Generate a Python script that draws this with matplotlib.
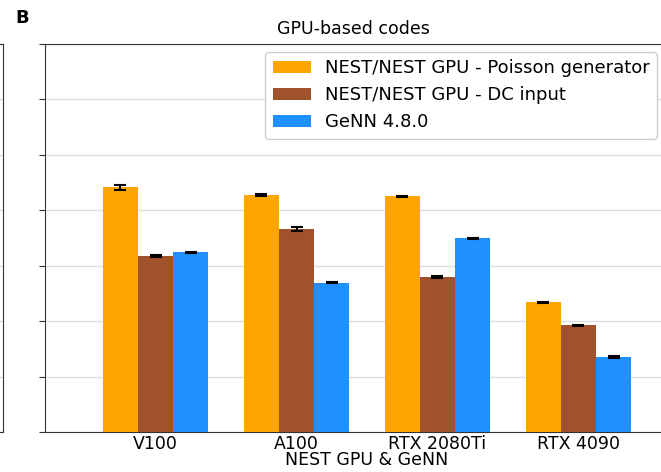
import numpy as np
import matplotlib
matplotlib.use("Agg")
import matplotlib.pyplot as plt

# datos (unidades arbitrarias, 1 = una linea de rejilla)
gpus = ["V100", "A100", "RTX 2080Ti", "RTX 4090"]
series = ["NEST/NEST GPU - Poisson generator", "NEST/NEST GPU - DC input", "GeNN 4.8.0"]
poisson = [4.415, 4.27, 4.25, 2.34]
poisson_err = [0.05, 0.015, 0.012, 0.01]
dc = [3.175, 3.657, 2.796, 1.925]
dc_err = [0.015, 0.035, 0.015, 0.01]
genn = [3.242, 2.69, 3.494, 1.353]
genn_err = [0.012, 0.01, 0.01, 0.01]
colors = ["orange", "sienna", "dodgerblue"]

W, H = 661, 472
fig = plt.figure(figsize=(W / 100, H / 100), dpi=100)

# resto del panel A (cortado a la izquierda)
axa = fig.add_axes([-0.5, (472 - 432) / H, 0.5 + 2.5 / W, 388 / H])
axa.set_ylim(0, 7)
axa.set_yticks(range(8))
axa.yaxis.grid(True, color="#dddddd", linewidth=1)
axa.set_xticks([])
axa.set_yticklabels([])
for s in axa.spines.values():
    s.set_color("#333333")

# panel B
ax = fig.add_axes([45 / W, (472 - 432) / H, 644 / W, 388 / H])
x = np.arange(len(gpus))
w = 0.25
vals = [poisson, dc, genn]
errs = [poisson_err, dc_err, genn_err]
for i in range(3):
    ax.bar(x + (i - 1) * w, vals[i], w, yerr=errs[i], color=colors[i],
           label=series[i], capsize=4,
           error_kw=dict(ecolor="black", elinewidth=1.5, capthick=1.5), zorder=3)

ax.set_xlim(-0.785, 3.785)
ax.set_ylim(0, 7)
ax.set_yticks(range(8))
ax.set_yticklabels([])
ax.yaxis.grid(True, color="#dddddd", linewidth=1, zorder=0)
ax.set_axisbelow(True)
ax.set_xticks(x)
ax.set_xticklabels(gpus, fontsize=12.5)
ax.tick_params(axis="x", length=0, pad=2)
ax.tick_params(axis="y", length=4, color="#333333")
for s in ax.spines.values():
    s.set_color("#333333")
ax.set_xlabel("NEST GPU & GeNN", fontsize=12.5, labelpad=-1)
ax.text(0.479, 1.015, "GPU-based codes", transform=ax.transAxes,
        ha="center", va="bottom", fontsize=12.5)

leg = ax.legend(loc="upper right", bbox_to_anchor=((657 - 45) / 644, 1 - 8 / 388),
                fontsize=13, handlelength=2.1, handletextpad=0.8,
                labelspacing=0.5, borderaxespad=0, framealpha=1)
leg.get_frame().set_edgecolor("#cccccc")

fig.text(15 / W, 1 - 23 / H, "B", fontsize=13, fontweight="bold")

fig.savefig("out.png", dpi=100)
